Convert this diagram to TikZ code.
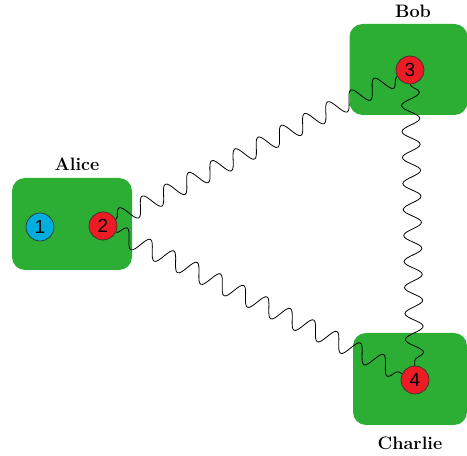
\documentclass[tikz,border=0pt]{standalone}
\usepackage{fontspec}
\newfontfamily\digitfont{Liberation Sans}
\usepackage{tikz}
\usetikzlibrary{decorations.pathmorphing, positioning, calc}

\definecolor{labgreen}{RGB}{44,174,52}
\definecolor{qblue}{RGB}{0,174,222}
\definecolor{qred}{RGB}{237,28,36}

\begin{document}
\begin{tikzpicture}[x=1pt,y=1pt,
    lab/.style={fill=labgreen, rounded corners=13pt, inner sep=0pt},
    qubit/.style={circle, draw=black!80, line width=0.7pt, minimum size=28pt, inner sep=0pt, font=\digitfont\fontsize{19}{19}\selectfont},
    party/.style={font=\bfseries\fontsize{18}{20}\selectfont},
    link/.style={decorate, decoration={snake, segment length=26pt, amplitude=9pt}, line width=0.8pt, black}]
\useasboundingbox (0,0) rectangle (467,456);
% Labs
\node[lab, minimum width=120pt, minimum height=92pt] (alicebox) at (72,232) {};
\node[lab, minimum width=118pt, minimum height=91pt] (bobbox) at (408.5,386.5) {};
\node[lab, minimum width=114pt, minimum height=92pt] (charliebox) at (410,77) {};
% Names
\node[party] (alice) at (77,292) {Alice};
\node[party] (bob) at (413,445) {Bob};
\node[party] (charlie) at (410,13) {Charlie};
% Qubits
\node[qubit, fill=qblue] (q1) at (40,229) {1};
\node[qubit, fill=qred] (q2) at (103,230) {2};
\node[qubit, fill=qred] (q3) at (410,386) {3};
\node[qubit, fill=qred] (q4) at (415,76) {4};
% Entanglement
\draw[link] (q2) -- (q3);
\draw[link] (q2) -- (q4);
\draw[link] (q3) -- (q4);
\end{tikzpicture}
\end{document}
